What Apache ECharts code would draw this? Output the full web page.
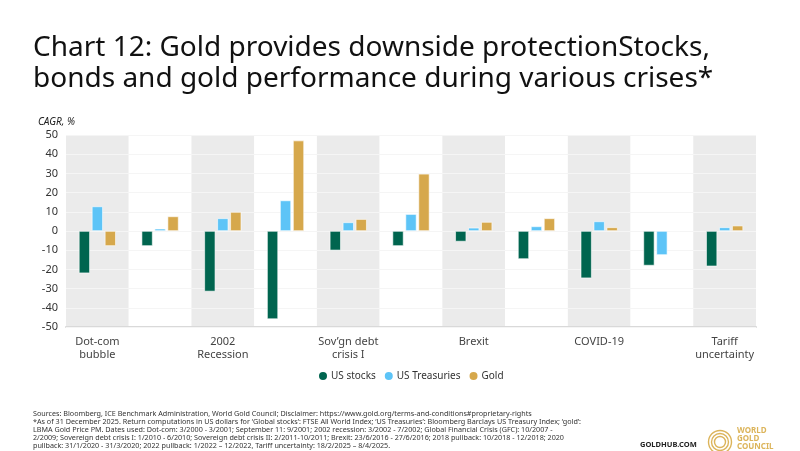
<!DOCTYPE html>
<html>
<head>
<meta charset="utf-8">
<script src="https://cdn.jsdelivr.net/npm/echarts@6/dist/echarts.min.js"></script>
<style>
  html, body { margin: 0; padding: 0; background: #fff; }
  #chart { width: 800px; height: 451px; }
</style>
</head>
<body>
<div id="chart"></div>
<script>
// crises, in order
const categories = [
  'Dot-com\nbubble', 'September 11', '2002\nRecession', 'GFC',
  'Sov\u2019gn debt\ncrisis I', 'Sov\u2019gn debt crisis II', 'Brexit', '2018 pullback',
  'COVID-19', '2022 pullback', 'Tariff\nuncertainty'
]

// CAGR, %
const usStocks = [-22.0, -7.8, -31.5, -45.9, -10.1, -7.8, -5.5, -14.6, -24.6, -18.0, -18.4]
const usTreasuries = [12.8, 1.2, 6.6, 15.9, 4.5, 8.8, 1.7, 2.4, 5.0, -12.5, 1.9]
const gold = [-7.8, 7.6, 9.9, 47.1, 6.2, 29.8, 4.7, 6.6, 1.9, 0.3, 2.8]

const seriesNames = ['US stocks', 'US Treasuries', 'Gold']
const colors = ['#00654f', '#5dc4f7', '#d6a84c']

const font = '"Noto Sans", "Open Sans", sans-serif'

const footnote = [
  'Sources: Bloomberg, ICE Benchmark Administration, World Gold Council; Disclaimer: https://www.gold.org/terms-and-conditions#proprietary-rights',
  '*As of 31 December 2025. Return computations in US dollars for \u2018Global stocks\u2019: FTSE All World Index; \u2018US Treasuries\u2019: Bloomberg Barclays US Treasury Index; \u2018gold\u2019:',
  'LBMA Gold Price PM. Dates used: Dot-com: 3/2000 - 3/2001; September 11: 9/2001; 2002 recession: 3/2002 - 7/2002; Global Financial Crisis (GFC): 10/2007 -',
  '2/2009; Sovereign debt crisis I: 1/2010 - 6/2010; Sovereign debt crisis II: 2/2011-10/2011; Brexit: 23/6/2016 - 27/6/2016; 2018 pullback: 10/2018 - 12/2018; 2020',
  'pullback: 31/1/2020 - 31/3/2020; 2022 pullback: 1/2022 \u2013 12/2022, Tariff uncertainty: 18/2/2025 \u2013 8/4/2025.'
].join('\n')

const chart = echarts.init(document.getElementById('chart'), null, { renderer: 'canvas' })

const barSeries = [usStocks, usTreasuries, gold].map((data, i) => ({
  name: seriesNames[i],
  type: 'bar',
  data,
  z: 3,
  barWidth: 11,
  barGap: '18%',
  itemStyle: { color: colors[i], borderColor: '#fff', borderWidth: 0.6 }
}))

chart.setOption({
  animation: false,
  textStyle: { fontFamily: font },
  color: colors,
  title: {
    text: 'Chart 12: Gold provides downside protectionStocks,\nbonds and gold performance during various crises*',
    left: 28,
    top: 28,
    textStyle: { fontSize: 28, fontWeight: 'normal', color: '#111', lineHeight: 31, fontFamily: font }
  },
  legend: {
    left: 312,
    top: 365,
    icon: 'circle',
    itemWidth: 10,
    itemHeight: 10,
    itemGap: 7,
    textStyle: { fontSize: 10, color: '#333', padding: [0, 0, 0, -2] },
    data: seriesNames
  },
  grid: { left: 66, right: 44, top: 135, bottom: 124, containLabel: false },
  xAxis: {
    type: 'category',
    data: categories,
    z: 0,
    axisLine: { onZero: false, lineStyle: { color: '#d9d9d9', width: 2 } },
    axisTick: { show: false },
    axisLabel: { interval: 1, fontSize: 11, color: '#444', lineHeight: 13, margin: 8 },
    splitLine: { show: false },
    splitArea: { show: true, interval: 0, areaStyle: { color: ['#ebebeb', '#ffffff'] } }
  },
  yAxis: {
    type: 'value',
    min: -50,
    max: 50,
    interval: 10,
    z: 1,
    axisLine: { show: false },
    axisTick: { show: false },
    axisLabel: { fontSize: 11, color: '#333', margin: 8 },
    splitLine: { lineStyle: { color: '#f5f5f5', width: 1 } }
  },
  series: barSeries,
  graphic: [
    {
      type: 'text', left: 38, top: 117,
      style: { text: 'CAGR, %', fontSize: 10, fontStyle: 'italic', fill: '#222', fontFamily: font }
    },
    {
      type: 'text', left: 33, top: 410,
      style: { text: footnote, fontSize: 7.2, lineHeight: 8, fill: '#333', fontFamily: font }
    },
    {
      type: 'text', left: 640, top: 441,
      style: { text: 'GOLDHUB.COM', fontSize: 7.5, fontWeight: 'bold', fill: '#222', fontFamily: font }
    },
    {
      type: 'group', left: 706, top: 428,
      children: [
        { type: 'circle', shape: { cx: 12, cy: 12, r: 11.5 }, style: { fill: 'none', stroke: '#dcb45a', lineWidth: 1.4 } },
        { type: 'circle', shape: { cx: 12, cy: 12, r: 8.5 }, style: { fill: 'none', stroke: '#dcb45a', lineWidth: 1.4 } },
        { type: 'circle', shape: { cx: 12, cy: 12, r: 5.5 }, style: { fill: 'none', stroke: '#dcb45a', lineWidth: 1.4 } }
      ]
    },
    {
      type: 'text', left: 737, top: 427,
      style: { text: 'WORLD\nGOLD\nCOUNCIL', fontSize: 8, lineHeight: 8, fontWeight: 'bold', fill: '#dcb45a', fontFamily: font }
    }
  ]
})
</script>
</body>
</html>
